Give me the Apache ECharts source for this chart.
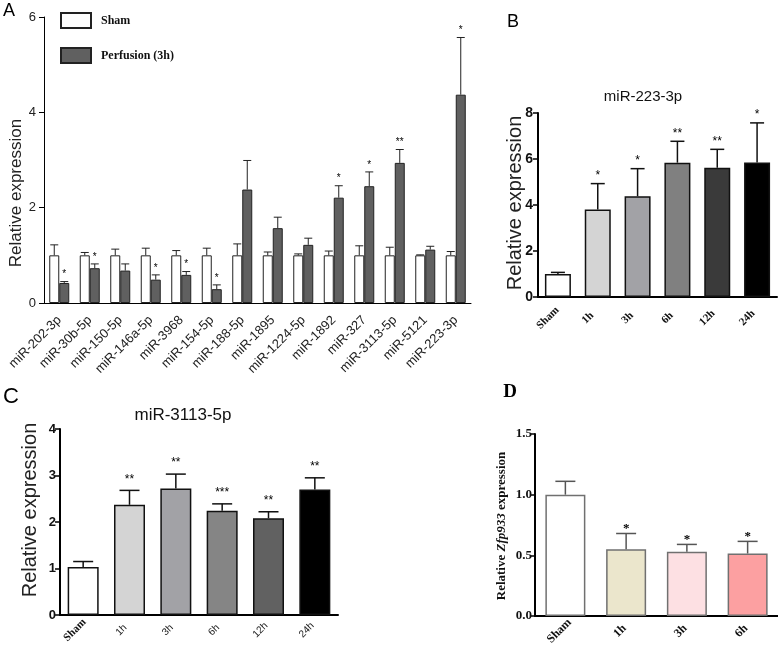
<!DOCTYPE html>
<html>
<head>
<meta charset="utf-8">
<title>miRNA expression</title>
<script src="https://cdn.jsdelivr.net/npm/echarts@6/dist/echarts.min.js"></script>
<style>
    html, body { margin: 0; padding: 0; background: #fff; }
    #main { width: 778px; height: 648px; }
</style>
</head>
<body>
<div id="main"></div>
<script>
    // panel A : sham vs perfusion (3h)
    var aCats = ['miR-202-3p', 'miR-30b-5p', 'miR-150-5p', 'miR-146a-5p', 'miR-3968', 'miR-154-5p', 'miR-188-5p',
        'miR-1895', 'miR-1224-5p', 'miR-1892', 'miR-327', 'miR-3113-5p', 'miR-5121', 'miR-223-3p'];
    var aSham = [1, 1, 1, 1, 1, 1, 1, 1, 1, 1, 1, 1, 1, 1];
    var aShamErr = [1.22, 1.06, 1.13, 1.15, 1.10, 1.15, 1.24, 1.07, 1.03, 1.09, 1.20, 1.17, 1.01, 1.08];
    var aPerf = [0.42, 0.73, 0.68, 0.49, 0.59, 0.29, 2.38, 1.57, 1.22, 2.21, 2.45, 2.94, 1.12, 4.37];
    var aPerfErr = [0.45, 0.82, 0.82, 0.59, 0.66, 0.38, 2.99, 1.80, 1.36, 2.46, 2.75, 3.22, 1.19, 5.57];
    var aStars = ['*', '*', '', '*', '*', '*', '', '', '', '*', '*', '**', '', '*'];

    // panel B : miR-223-3p time course
    var bCats = ['Sham', '1h', '3h', '6h', '12h', '24h'];
    var bVals = [1.0, 3.80, 4.38, 5.84, 5.62, 5.85];
    var bErr = [1.07, 4.93, 5.58, 6.77, 6.42, 7.57];
    var bStars = ['', '*', '*', '**', '**', '*'];
    var bColors = ['#ffffff', '#d4d4d4', '#a2a2a6', '#808080', '#3a3a3a', '#000000'];

    // panel C : miR-3113-5p time course
    var cCats = ['Sham', '1h', '3h', '6h', '12h', '24h'];
    var cVals = [1.03, 2.37, 2.72, 2.24, 2.08, 2.70];
    var cErr = [1.15, 2.68, 3.03, 2.39, 2.22, 2.95];
    var cStars = ['', '**', '**', '***', '**', '**'];
    var cColors = ['#ffffff', '#d4d4d4', '#a2a2a6', '#858585', '#616161', '#000000'];

    // panel D : Zfp933
    var dCats = ['Sham', '1h', '3h', '6h'];
    var dVals = [1.0, 0.55, 0.53, 0.515];
    var dErr = [1.11, 0.68, 0.59, 0.615];
    var dStars = ['', '*', '*', '*'];
    var dColors = ['#ffffff', '#ebe6cc', '#fde0e3', '#fca0a1'];

    var SANS = 'Liberation Sans, Arial, sans-serif';
    var SERIF = 'Liberation Serif, Times New Roman, serif';

    // error bar (upper half only) + significance stars
    function errSeries(g, means, tops, stars, o) {
        return {
            type: 'custom', xAxisIndex: g, yAxisIndex: g, z: 5, silent: true,
            data: means.map(function (m, i) { return [i, m, tops[i]]; }),
            renderItem: function (params, api) {
                var lo = api.coord([api.value(0), api.value(1)]);
                var hi = api.coord([api.value(0), api.value(2)]);
                var x = lo[0] + o.offset;
                var h = o.cap / 2;
                var st = { stroke: o.color, lineWidth: o.lw };
                var kids = [
                    { type: 'line', shape: { x1: x, y1: lo[1], x2: x, y2: hi[1] }, style: st },
                    { type: 'line', shape: { x1: x - h, y1: hi[1], x2: x + h, y2: hi[1] }, style: st }
                ];
                var s = stars[params.dataIndex];
                if (s) {
                    kids.push({ type: 'text', style: { text: s, x: x, y: hi[1] - o.gap, align: 'center', verticalAlign: 'middle',
                        fontSize: o.fs, fontFamily: o.ff, fontWeight: o.fw || 'normal', fill: '#000' } });
                }
                return { type: 'group', children: kids };
            }
        };
    }

    function pick(arr) { return function (p) { return arr[p.dataIndex]; }; }

    var myChart = echarts.init(document.getElementById('main'));
    var option = {
        animation: false,
        grid: [
            { left: 44, top: 17, width: 427, height: 286, outerBoundsMode: 'none' },
            { left: 538, top: 113, width: 239, height: 184, outerBoundsMode: 'none' },
            { left: 60, top: 429, width: 278, height: 186, outerBoundsMode: 'none' },
            { left: 535, top: 434, width: 243, height: 182, outerBoundsMode: 'none' }
        ],
        legend: {
            data: ['Sham', 'Perfusion (3h)'], orient: 'vertical', left: 60, top: 12, padding: 0,
            itemWidth: 30, itemHeight: 15, itemGap: 18, icon: 'rect', selectedMode: false,
            textStyle: { fontFamily: SERIF, fontWeight: 'bold', fontSize: 12, color: '#111', padding: [0, 0, 0, 5] }
        },
        xAxis: [
            {
                gridIndex: 0, type: 'category', data: aCats,
                axisLine: { lineStyle: { color: '#000', width: 1 } },
                axisTick: { alignWithLabel: true, length: 8, lineStyle: { color: '#000' } },
                axisLabel: { rotate: 45, interval: 0, margin: 15, fontSize: 13, fontFamily: SANS, color: '#222' }
            },
            {
                gridIndex: 1, type: 'category', data: bCats,
                axisLine: { lineStyle: { color: '#000', width: 2 } },
                axisTick: { alignWithLabel: true, length: 5, lineStyle: { color: '#000', width: 1.5 } },
                axisLabel: { rotate: 45, interval: 0, align: 'center', verticalAlign: 'middle', margin: 11, padding: [0, 28, 0, 0],
                    fontSize: 11, fontFamily: SERIF, fontWeight: 'bold', color: '#111' }
            },
            {
                gridIndex: 2, type: 'category', data: cCats,
                axisLine: { lineStyle: { color: '#000', width: 2 } },
                axisTick: { alignWithLabel: true, length: 5, lineStyle: { color: '#000', width: 1.5 } },
                axisLabel: { rotate: 45, interval: 0, align: 'center', verticalAlign: 'middle', margin: 7, padding: [0, 23, 0, 0],
                    formatter: function (v) { return v === 'Sham' ? '{s|' + v + '}' : '{n|' + v + '}'; },
                    rich: {
                        s: { fontFamily: SERIF, fontWeight: 'bold', fontSize: 11, color: '#111' },
                        n: { fontFamily: SANS, fontSize: 10, color: '#222' }
                    } }
            },
            {
                gridIndex: 3, type: 'category', data: dCats,
                axisLine: { lineStyle: { color: '#000', width: 2 } },
                axisTick: { alignWithLabel: true, length: 5, lineStyle: { color: '#000', width: 1.5 } },
                axisLabel: { rotate: 45, interval: 0, align: 'center', verticalAlign: 'middle', margin: 9, padding: [0, 17, 0, 0],
                    fontSize: 12, fontFamily: SERIF, fontWeight: 'bold', color: '#111' }
            }
        ],
        yAxis: [
            {
                gridIndex: 0, type: 'value', min: 0, max: 6, interval: 2, splitLine: { show: false },
                axisLine: { show: true, lineStyle: { color: '#000', width: 1 } },
                axisTick: { show: true, length: 5, lineStyle: { color: '#000' } },
                axisLabel: { fontSize: 13, fontFamily: SANS, color: '#222', margin: 8 }
            },
            {
                gridIndex: 1, type: 'value', min: 0, max: 8, interval: 2, splitLine: { show: false },
                axisLine: { show: true, lineStyle: { color: '#000', width: 2 } },
                axisTick: { show: true, length: 5, lineStyle: { color: '#000', width: 1.5 } },
                axisLabel: { fontSize: 14, fontFamily: SANS, fontWeight: 'bold', color: '#111', margin: 5 }
            },
            {
                gridIndex: 2, type: 'value', min: 0, max: 4, interval: 1, splitLine: { show: false },
                axisLine: { show: true, lineStyle: { color: '#000', width: 2 } },
                axisTick: { show: true, length: 5, lineStyle: { color: '#000', width: 1.5 } },
                axisLabel: { fontSize: 13, fontFamily: SANS, fontWeight: 'bold', color: '#111', margin: 4 }
            },
            {
                gridIndex: 3, type: 'value', min: 0, max: 1.5, interval: 0.5, splitLine: { show: false },
                axisLine: { show: true, lineStyle: { color: '#000', width: 2 } },
                axisTick: { show: true, length: 5, lineStyle: { color: '#000', width: 1.5 } },
                axisLabel: { fontSize: 13, fontFamily: SERIF, fontWeight: 'bold', color: '#111', margin: 3,
                    formatter: function (v) { return v.toFixed(1); } }
            }
        ],
        series: [
            { type: 'bar', name: 'Sham', xAxisIndex: 0, yAxisIndex: 0, data: aSham, barWidth: 10, barGap: '0%',
                itemStyle: { color: '#ffffff', borderColor: '#222', borderWidth: 1 } },
            { type: 'bar', name: 'Perfusion (3h)', xAxisIndex: 0, yAxisIndex: 0, data: aPerf, barWidth: 10, barGap: '0%',
                itemStyle: { color: '#606060', borderColor: '#222', borderWidth: 1 } },
            errSeries(0, aSham, aShamErr, [], { offset: -5, cap: 8, lw: 1, color: '#222', gap: 7, fs: 10, ff: SANS }),
            errSeries(0, aPerf, aPerfErr, aStars, { offset: 5, cap: 8, lw: 1, color: '#222', gap: 7, fs: 10, ff: SANS }),

            { type: 'bar', xAxisIndex: 1, yAxisIndex: 1, data: bVals, barWidth: 26,
                itemStyle: { color: pick(bColors), borderColor: '#111', borderWidth: 1.5 } },
            errSeries(1, bVals, bErr, bStars, { offset: 0, cap: 14, lw: 1.5, color: '#111', gap: 8, fs: 12, ff: SANS }),

            { type: 'bar', xAxisIndex: 2, yAxisIndex: 2, data: cVals, barWidth: 31,
                itemStyle: { color: pick(cColors), borderColor: '#111', borderWidth: 1.5 } },
            errSeries(2, cVals, cErr, cStars, { offset: 0, cap: 20, lw: 1.5, color: '#111', gap: 11, fs: 12, ff: SANS }),

            { type: 'bar', xAxisIndex: 3, yAxisIndex: 3, data: dVals, barWidth: 40,
                itemStyle: { color: pick(dColors), borderColor: '#707070', borderWidth: 1.5 } },
            errSeries(3, dVals, dErr, dStars, { offset: 0, cap: 20, lw: 1.5, color: '#555', gap: 5, fs: 13, ff: SERIF, fw: 'bold' })
        ],
        graphic: [
            { type: 'text', x: 9, y: 11, style: { text: 'A', fontSize: 18, fontFamily: SANS, fill: '#000', align: 'center', verticalAlign: 'middle' } },
            { type: 'text', x: 513, y: 22, style: { text: 'B', fontSize: 18, fontFamily: SANS, fill: '#000', align: 'center', verticalAlign: 'middle' } },
            { type: 'text', x: 11, y: 397, style: { text: 'C', fontSize: 22, fontFamily: SANS, fill: '#000', align: 'center', verticalAlign: 'middle' } },
            { type: 'text', x: 510, y: 392, style: { text: 'D', fontSize: 19, fontFamily: SERIF, fontWeight: 'bold', fill: '#000', align: 'center', verticalAlign: 'middle' } },
            { type: 'text', x: 643, y: 97, style: { text: 'miR-223-3p', fontSize: 15, fontFamily: SANS, fill: '#111', align: 'center', verticalAlign: 'middle' } },
            { type: 'text', x: 183, y: 415, style: { text: 'miR-3113-5p', fontSize: 17, fontFamily: SANS, fill: '#111', align: 'center', verticalAlign: 'middle' } },
            { type: 'text', x: 16, y: 193, rotation: Math.PI / 2, style: { text: 'Relative expression', fontSize: 17, fontFamily: SANS, fill: '#222', align: 'center', verticalAlign: 'middle' } },
            { type: 'text', x: 515, y: 203, rotation: Math.PI / 2, style: { text: 'Relative expression', fontSize: 20, fontFamily: SANS, fill: '#222', align: 'center', verticalAlign: 'middle' } },
            { type: 'text', x: 30, y: 510, rotation: Math.PI / 2, style: { text: 'Relative expression', fontSize: 20, fontFamily: SANS, fill: '#222', align: 'center', verticalAlign: 'middle' } },
            { type: 'text', x: 502, y: 526, rotation: Math.PI / 2, style: {
                text: '{a|Relative }{b|Zfp933}{a| expression}', align: 'center', verticalAlign: 'middle',
                rich: {
                    a: { fontSize: 13, fontFamily: SERIF, fontWeight: 'bold', fill: '#111', color: '#111' },
                    b: { fontSize: 13, fontFamily: SERIF, fontWeight: 'bold', fontStyle: 'italic', fill: '#111', color: '#111' }
                } } }
        ]
    };
    myChart.setOption(option);
</script>
</body>
</html>
